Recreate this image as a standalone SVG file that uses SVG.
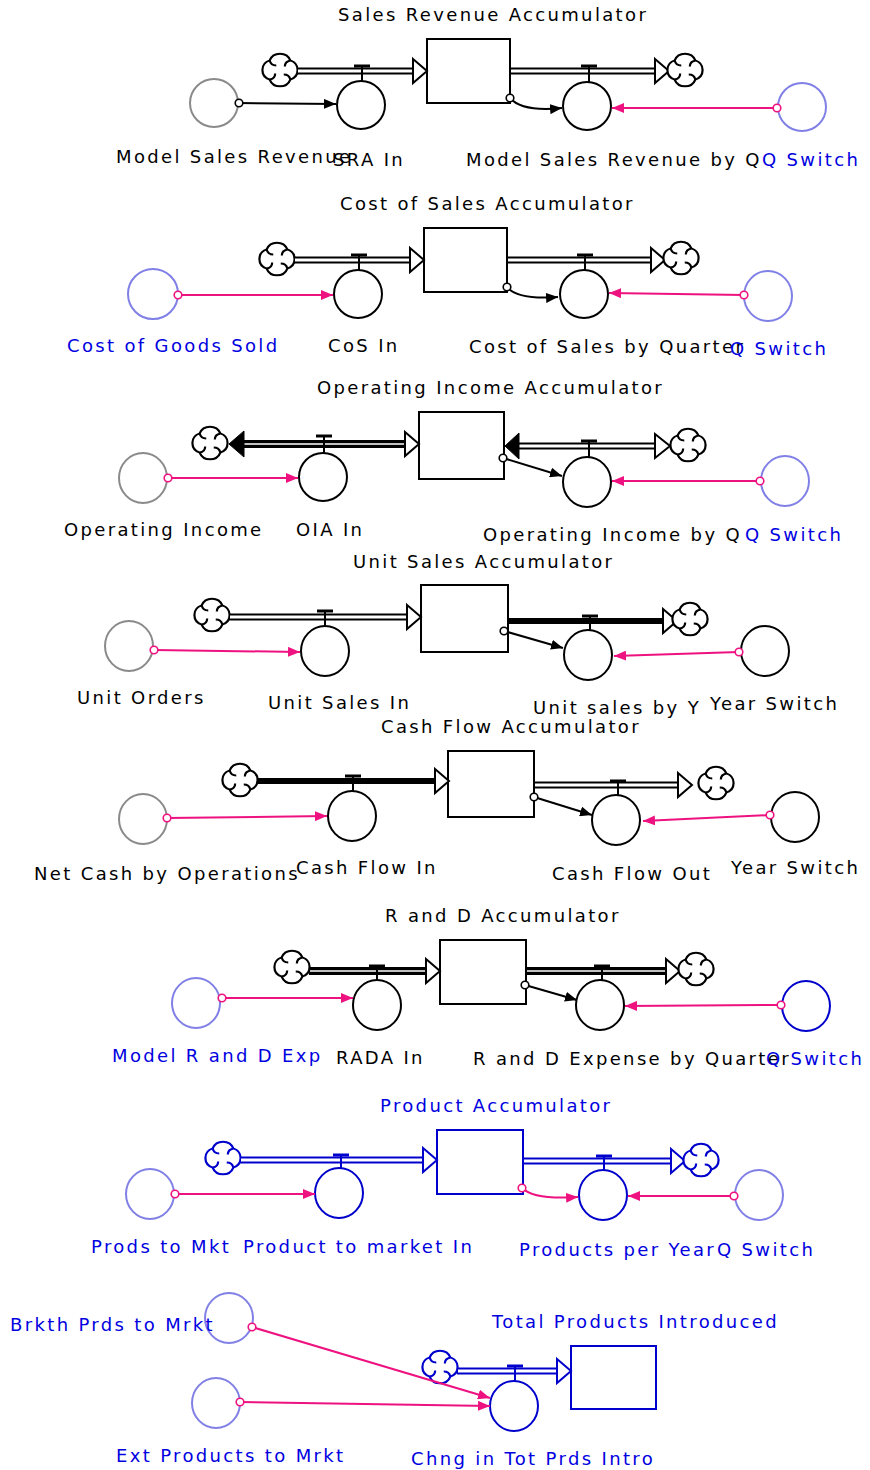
<svg xmlns="http://www.w3.org/2000/svg" xmlns:xlink="http://www.w3.org/1999/xlink" width="870" height="1470" viewBox="0 0 870 1470">
<style>
.t{font-family:"DejaVu Sans","Liberation Sans",sans-serif;font-size:18px;letter-spacing:2.35px;fill:#000}
.b{fill:#0000e0}
.stk{fill:#fff;stroke:#000;stroke-width:2}
.fc{fill:#fff;stroke:#000;stroke-width:2}
.bl{stroke:#0000cc}
.ag{fill:#fff;stroke:#8a8a8a;stroke-width:2}
.al{fill:#fff;stroke:#8080e6;stroke-width:2}
.ak{fill:#fff;stroke:#000;stroke-width:2}
.ad{fill:#fff;stroke:#0000cc;stroke-width:2}
.po{fill:none;stroke:#000;stroke-width:7}
.pi{fill:none;stroke:#fff;stroke-width:3}
.ph{fill:none;stroke:#000;stroke-width:8}
.phi{fill:none;stroke:#fff;stroke-width:1.5}
.ps{fill:none;stroke:#000;stroke-width:6}
.pob{fill:none;stroke:#0000cc;stroke-width:7}
.ah{fill:#fff;stroke:#000;stroke-width:2;stroke-linejoin:miter}
.ahb{fill:#fff;stroke:#0000cc;stroke-width:2}
.af{fill:#000;stroke:#000;stroke-width:1}
.vb{stroke:#000;stroke-width:3}
.vs{stroke:#000;stroke-width:2}
.vbb{stroke:#0000cc;stroke-width:3}
.vsb{stroke:#0000cc;stroke-width:2}
.cl{stroke:#000;stroke-width:2}
.clb{stroke:#0000cc;stroke-width:2}
.ck{fill:none;stroke:#000;stroke-width:2;marker-start:url(#sk);marker-end:url(#ek)}
.cp{fill:none;stroke:#ee1180;stroke-width:2;marker-start:url(#sp);marker-end:url(#ep)}
</style>
<defs>
<g id="cloud">
<g transform="scale(1.1,1.02)">
<path d="M-9.4,-9.4 A10,10 0 0 1 9.4,-9.4 A10,10 0 0 1 9.4,9.4 A10,10 0 0 1 -9.4,9.4 A10,10 0 0 1 -9.4,-9.4 Z" fill="#fff"/>
<path d="M9.4,-9.4 q-5,1 -5,6 M9.4,9.4 q-1,-5 -6,-5 M-9.4,9.4 q5,-1 5,-6 M-9.4,-9.4 q1,5 6,5" fill="none"/>
</g>
</g>
<marker id="ek" viewBox="0 0 12 10" refX="12" refY="5" markerWidth="12" markerHeight="10" markerUnits="userSpaceOnUse" orient="auto"><path d="M0,0 L12,5 L0,10 Z" fill="#000"/></marker>
<marker id="ep" viewBox="0 0 12 10" refX="12" refY="5" markerWidth="12" markerHeight="10" markerUnits="userSpaceOnUse" orient="auto"><path d="M0,0 L12,5 L0,10 Z" fill="#ee1180"/></marker>
<marker id="sk" viewBox="-5 -5 10 10" refX="0" refY="0" markerWidth="10" markerHeight="10" markerUnits="userSpaceOnUse"><circle r="3.8" fill="#fff" stroke="#000" stroke-width="1.6"/></marker>
<marker id="sp" viewBox="-5 -5 10 10" refX="0" refY="0" markerWidth="10" markerHeight="10" markerUnits="userSpaceOnUse"><circle r="3.8" fill="#fff" stroke="#ee1180" stroke-width="1.6"/></marker>
</defs>

<!-- Section 1 -->
<g id="sales-revenue-accumulator">
<rect class="stk" x="427" y="39" width="83" height="64"/>
<text class="t" x="338" y="21">Sales Revenue Accumulator</text>
</g>
<g id="sra-in">
<use href="#cloud" x="280" y="70" class="cl"/>
<line class="po" x1="297" y1="71" x2="414" y2="71"/><line class="pi" x1="298" y1="71" x2="415" y2="71"/>
<polygon class="ah" points="413,59 427,71 413,83"/>
<line class="vb" x1="354" y1="66" x2="370" y2="66"/><line class="vs" x1="362" y1="66" x2="362" y2="81"/>
<ellipse class="fc" cx="361" cy="105" rx="24" ry="24"/>
<text class="t" x="333" y="166">SRA In</text>
</g>
<g id="model-sales-revenue-by-q">
<line class="po" x1="510" y1="71" x2="656" y2="71"/><line class="pi" x1="511" y1="71" x2="657" y2="71"/>
<polygon class="ah" points="655,59 669,71 655,83"/>
<use href="#cloud" x="685" y="70" class="cl"/>
<line class="vb" x1="581" y1="66" x2="597" y2="66"/><line class="vs" x1="589" y1="66" x2="589" y2="82"/>
<ellipse class="fc" cx="587" cy="106" rx="24" ry="24"/>
<text class="t" x="466" y="166">Model Sales Revenue by Q</text>
</g>
<g id="model-sales-revenue">
<ellipse class="ag" cx="214" cy="103" rx="24" ry="24"/>
<text class="t" x="116" y="163">Model Sales Revenue</text>
</g>
<g id="q-switch-1">
<ellipse class="al" cx="802" cy="107" rx="24" ry="24"/>
<text class="t b" x="762" y="166">Q Switch</text>
</g>

<!-- Section 2 -->
<g id="cost-of-sales-accumulator">
<rect class="stk" x="424" y="228" width="83" height="64"/>
<text class="t" x="340" y="210">Cost of Sales Accumulator</text>
</g>
<g id="cos-in">
<use href="#cloud" x="277" y="259" class="cl"/>
<line class="po" x1="294" y1="260" x2="411" y2="260"/><line class="pi" x1="295" y1="260" x2="412" y2="260"/>
<polygon class="ah" points="410,248 424,260 410,272"/>
<line class="vb" x1="351" y1="255" x2="367" y2="255"/><line class="vs" x1="359" y1="255" x2="359" y2="270"/>
<ellipse class="fc" cx="358" cy="294" rx="24" ry="24"/>
<text class="t" x="328" y="352">CoS In</text>
</g>
<g id="cost-of-sales-by-quarter">
<line class="po" x1="507" y1="260" x2="652" y2="260"/><line class="pi" x1="508" y1="260" x2="653" y2="260"/>
<polygon class="ah" points="651,248 665,260 651,272"/>
<use href="#cloud" x="681" y="258" class="cl"/>
<line class="vb" x1="577" y1="255" x2="593" y2="255"/><line class="vs" x1="585" y1="255" x2="585" y2="270"/>
<ellipse class="fc" cx="584" cy="294" rx="24" ry="24"/>
<text class="t" x="469" y="353">Cost of Sales by Quarter</text>
</g>
<g id="cost-of-goods-sold">
<ellipse class="al" cx="153" cy="294" rx="25" ry="25"/>
<text class="t b" x="67" y="352">Cost of Goods Sold</text>
</g>
<g id="q-switch-2">
<ellipse class="al" cx="768" cy="296" rx="24" ry="25"/>
<text class="t b" x="730" y="355">Q Switch</text>
</g>

<!-- Section 3 -->
<g id="operating-income-accumulator">
<rect class="stk" x="419" y="412" width="85" height="67"/>
<text class="t" x="317" y="394">Operating Income Accumulator</text>
</g>
<g id="oia-in">
<use href="#cloud" x="210" y="443" class="cl"/>
<line class="ph" x1="243" y1="444" x2="406" y2="444"/><line class="phi" x1="243" y1="444" x2="406" y2="444"/>
<polygon class="af" points="244,431 229,444 244,457"/>
<polygon class="ah" points="405,432 419,444 405,456"/>
<line class="vb" x1="316" y1="436" x2="332" y2="436"/><line class="vs" x1="324" y1="436" x2="324" y2="453"/>
<ellipse class="fc" cx="323" cy="477" rx="24" ry="24"/>
<text class="t" x="296" y="536">OIA In</text>
</g>
<g id="operating-income-by-q">
<line class="po" x1="517" y1="446" x2="656" y2="446"/><line class="pi" x1="517" y1="446" x2="657" y2="446"/>
<polygon class="af" points="519,433 505,446 519,459"/>
<polygon class="ah" points="655,434 670,446 655,458"/>
<use href="#cloud" x="688" y="445" class="cl"/>
<line class="vb" x1="581" y1="441" x2="597" y2="441"/><line class="vs" x1="589" y1="441" x2="589" y2="458"/>
<ellipse class="fc" cx="587" cy="482" rx="24" ry="25"/>
<text class="t" x="483" y="541">Operating Income by Q</text>
</g>
<g id="operating-income">
<ellipse class="ag" cx="143" cy="478" rx="24" ry="25"/>
<text class="t" x="64" y="536">Operating Income</text>
</g>
<g id="q-switch-3">
<ellipse class="al" cx="785" cy="481" rx="24" ry="25"/>
<text class="t b" x="745" y="541">Q Switch</text>
</g>

<!-- Section 4 -->
<g id="unit-sales-accumulator">
<rect class="stk" x="421" y="585" width="87" height="67"/>
<text class="t" x="353" y="568">Unit Sales Accumulator</text>
</g>
<g id="unit-sales-in">
<use href="#cloud" x="212" y="615" class="cl"/>
<line class="po" x1="229" y1="617" x2="408" y2="617"/><line class="pi" x1="230" y1="617" x2="409" y2="617"/>
<polygon class="ah" points="407,605 421,617 407,629"/>
<line class="vb" x1="317" y1="611" x2="333" y2="611"/><line class="vs" x1="325" y1="611" x2="325" y2="627"/>
<ellipse class="fc" cx="325" cy="651" rx="24" ry="25"/>
<text class="t" x="268" y="709">Unit Sales In</text>
</g>
<g id="unit-sales-by-y">
<line class="ps" x1="508" y1="621" x2="664" y2="621"/>
<polygon class="ah" points="663,609 677,621 663,633"/>
<use href="#cloud" x="690" y="619" class="cl"/>
<line class="vb" x1="582" y1="616" x2="598" y2="616"/><line class="vs" x1="590" y1="616" x2="590" y2="631"/>
<ellipse class="fc" cx="588" cy="655" rx="24" ry="25"/>
<text class="t" x="533" y="714">Unit sales by Y</text>
</g>
<g id="unit-orders">
<ellipse class="ag" cx="129" cy="646" rx="24" ry="25"/>
<text class="t" x="77" y="704">Unit Orders</text>
</g>
<g id="year-switch-1">
<ellipse class="ak" cx="765" cy="651" rx="24" ry="25"/>
<text class="t" x="710" y="710">Year Switch</text>
</g>

<!-- Section 5 -->
<g id="cash-flow-accumulator">
<rect class="stk" x="448" y="751" width="86" height="66"/>
<text class="t" x="381" y="733">Cash Flow Accumulator</text>
</g>
<g id="cash-flow-in">
<use href="#cloud" x="240" y="780" class="cl"/>
<line class="ps" x1="257" y1="781" x2="436" y2="781"/>
<polygon class="ah" points="435,769 449,781 435,793"/>
<line class="vb" x1="345" y1="776" x2="361" y2="776"/><line class="vs" x1="353" y1="776" x2="353" y2="792"/>
<ellipse class="fc" cx="352" cy="816" rx="24" ry="25"/>
<text class="t" x="296" y="874">Cash Flow In</text>
</g>
<g id="cash-flow-out">
<line class="po" x1="534" y1="785" x2="679" y2="785"/><line class="pi" x1="535" y1="785" x2="680" y2="785"/>
<polygon class="ah" points="678,773 692,785 678,797"/>
<use href="#cloud" x="716" y="783" class="cl"/>
<line class="vb" x1="610" y1="781" x2="626" y2="781"/><line class="vs" x1="618" y1="781" x2="618" y2="796"/>
<ellipse class="fc" cx="616" cy="820" rx="24" ry="25"/>
<text class="t" x="552" y="880">Cash Flow Out</text>
</g>
<g id="net-cash-by-operations">
<ellipse class="ag" cx="143" cy="819" rx="24" ry="25"/>
<text class="t" x="34" y="880">Net Cash by Operations</text>
</g>
<g id="year-switch-2">
<ellipse class="ak" cx="795" cy="817" rx="24" ry="25"/>
<text class="t" x="731" y="874">Year Switch</text>
</g>

<!-- Section 6 -->
<g id="r-and-d-accumulator">
<rect class="stk" x="440" y="940" width="86" height="64"/>
<text class="t" x="385" y="922">R and D Accumulator</text>
</g>
<g id="rada-in">
<use href="#cloud" x="292" y="967" class="cl"/>
<line class="ph" x1="309" y1="971" x2="427" y2="971"/><line class="phi" x1="310" y1="971" x2="427" y2="971"/>
<polygon class="ah" points="426,959 440,971 426,983"/>
<line class="vb" x1="369" y1="966" x2="385" y2="966"/><line class="vs" x1="377" y1="966" x2="377" y2="981"/>
<ellipse class="fc" cx="377" cy="1005" rx="24" ry="25"/>
<text class="t" x="336" y="1064">RADA In</text>
</g>
<g id="r-and-d-expense-by-quarter">
<line class="ph" x1="526" y1="971" x2="667" y2="971"/><line class="phi" x1="527" y1="971" x2="667" y2="971"/>
<polygon class="ah" points="666,959 680,971 666,983"/>
<use href="#cloud" x="696" y="969" class="cl"/>
<line class="vb" x1="594" y1="966" x2="610" y2="966"/><line class="vs" x1="602" y1="966" x2="602" y2="981"/>
<ellipse class="fc" cx="600" cy="1005" rx="24" ry="25"/>
<text class="t" x="473" y="1065">R and D Expense by Quarter</text>
</g>
<g id="model-r-and-d-exp">
<ellipse class="al" cx="196" cy="1003" rx="24" ry="25"/>
<text class="t b" x="112" y="1062">Model R and D Exp</text>
</g>
<g id="q-switch-4">
<ellipse class="ad" cx="806" cy="1006" rx="24" ry="25"/>
<text class="t b" x="766" y="1065">Q Switch</text>
</g>

<!-- Section 7 -->
<g id="product-accumulator">
<rect class="stk bl" x="437" y="1130" width="86" height="64"/>
<text class="t b" x="380" y="1112">Product Accumulator</text>
</g>
<g id="product-to-market-in">
<use href="#cloud" x="223" y="1158" class="clb"/>
<line class="pob" x1="240" y1="1160" x2="424" y2="1160"/><line class="pi" x1="241" y1="1160" x2="425" y2="1160"/>
<polygon class="ahb" points="423,1148 437,1160 423,1172"/>
<line class="vbb" x1="333" y1="1155" x2="349" y2="1155"/><line class="vsb" x1="341" y1="1155" x2="341" y2="1169"/>
<ellipse class="fc bl" cx="339" cy="1193" rx="24" ry="25"/>
<text class="t b" x="243" y="1253">Product to market In</text>
</g>
<g id="products-per-year">
<line class="pob" x1="523" y1="1161" x2="672" y2="1161"/><line class="pi" x1="524" y1="1161" x2="673" y2="1161"/>
<polygon class="ahb" points="671,1149 685,1161 671,1173"/>
<use href="#cloud" x="701" y="1160" class="clb"/>
<line class="vbb" x1="596" y1="1156" x2="612" y2="1156"/><line class="vsb" x1="604" y1="1156" x2="604" y2="1170"/>
<ellipse class="fc bl" cx="603" cy="1195" rx="24" ry="25"/>
<text class="t b" x="519" y="1256">Products per Year</text>
</g>
<g id="prods-to-mkt">
<ellipse class="al" cx="150" cy="1194" rx="24" ry="25"/>
<text class="t b" x="91" y="1253">Prods to Mkt</text>
</g>
<g id="q-switch-5">
<ellipse class="al" cx="759" cy="1195" rx="24" ry="25"/>
<text class="t b" x="717" y="1256">Q Switch</text>
</g>

<!-- Section 8 -->
<g id="total-products-introduced">
<rect class="stk bl" x="571" y="1346" width="85" height="63"/>
<text class="t b" x="492" y="1328">Total Products Introduced</text>
</g>
<g id="chng-in-tot-prds-intro">
<use href="#cloud" x="440" y="1367" class="clb"/>
<line class="pob" x1="457" y1="1371" x2="558" y2="1371"/><line class="pi" x1="458" y1="1371" x2="559" y2="1371"/>
<polygon class="ahb" points="557,1359 571,1371 557,1383"/>
<line class="vbb" x1="507" y1="1366" x2="523" y2="1366"/><line class="vsb" x1="515" y1="1366" x2="515" y2="1381"/>
<ellipse class="fc bl" cx="514" cy="1406" rx="24" ry="25"/>
<text class="t b" x="411" y="1465">Chng in Tot Prds Intro</text>
</g>
<g id="brkth-prds-to-mrkt">
<ellipse class="al" cx="229" cy="1318" rx="24" ry="25"/>
<text class="t b" x="10" y="1331">Brkth Prds to Mrkt</text>
</g>
<g id="ext-products-to-mrkt">
<ellipse class="al" cx="216" cy="1403" rx="24" ry="25"/>
<text class="t b" x="116" y="1462">Ext Products to Mrkt</text>
</g>

<g id="connectors">
<path class="ck" d="M239,103 L336,104"/>
<path class="ck" d="M510,98 Q522,112 562,108"/>
<path class="cp" d="M777,108 L612,108"/>
<path class="cp" d="M178,295 L333,295"/>
<path class="ck" d="M507,287 Q518,300 558,297"/>
<path class="cp" d="M744,295 L609,293"/>
<path class="cp" d="M168,478 L298,478"/>
<path class="ck" d="M503,458 L562,476"/>
<path class="cp" d="M760,481 L612,481"/>
<path class="cp" d="M154,650 L300,652"/>
<path class="ck" d="M504,631 L563,648"/>
<path class="cp" d="M739,652 L614,656"/>
<path class="cp" d="M167,818 L327,816"/>
<path class="ck" d="M534,797 L592,815"/>
<path class="cp" d="M770,815 L643,821"/>
<path class="cp" d="M222,998 L353,998"/>
<path class="ck" d="M525,985 L577,1000"/>
<path class="cp" d="M781,1005 L625,1006"/>
<path class="cp" d="M175,1194 L315,1194"/>
<path class="cp" d="M522,1188 Q534,1200 578,1197"/>
<path class="cp" d="M734,1196 L628,1196"/>
<path class="cp" d="M252,1327 L490,1398"/>
<path class="cp" d="M240,1402 L490,1406"/>
</g>
</svg>
